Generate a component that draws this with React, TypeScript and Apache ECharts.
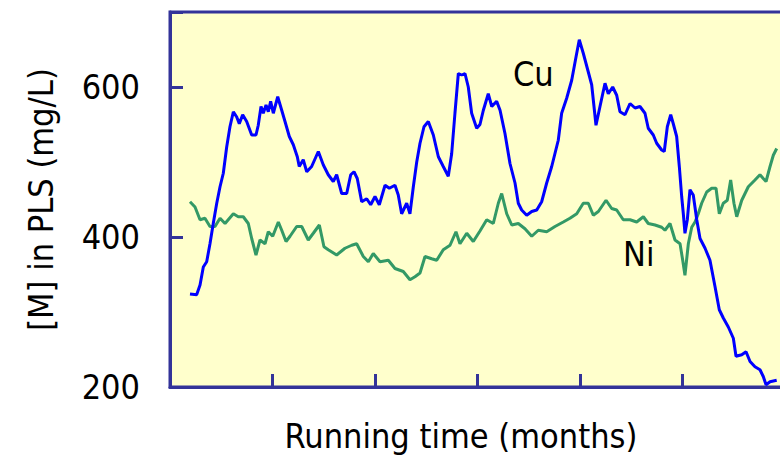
import React, { useEffect, useRef } from "react";
import * as echarts from "echarts";

// Running time (months) and [Cu] in PLS (mg/L)
const cuMonths = [
  0.195, 0.26, 0.293, 0.325, 0.358, 0.39, 0.422, 0.456, 0.488, 0.52, 0.553, 0.585, 0.618, 0.651, 0.676,
  0.709, 0.748, 0.797, 0.839, 0.861, 0.888, 0.91, 0.937, 0.959, 0.982, 1.008, 1.051, 1.09, 1.122, 1.164,
  1.203, 1.242, 1.261, 1.3, 1.334, 1.382, 1.447, 1.496, 1.544, 1.593, 1.626, 1.675, 1.724, 1.763, 1.795,
  1.827, 1.87, 1.919, 1.958, 2.0, 2.042, 2.098, 2.14, 2.195, 2.227, 2.26, 2.309, 2.341, 2.374, 2.407,
  2.439, 2.478, 2.52, 2.569, 2.618, 2.666, 2.715, 2.748, 2.78, 2.813, 2.846, 2.878, 2.91, 2.943, 2.992,
  3.024, 3.057, 3.105, 3.139, 3.187, 3.22, 3.268, 3.317, 3.366, 3.398, 3.431, 3.48, 3.529, 3.578, 3.626,
  3.675, 3.724, 3.788, 3.821, 3.87, 3.919, 3.961, 3.993, 4.032, 4.081, 4.114, 4.156, 4.195, 4.244, 4.276,
  4.319, 4.358, 4.39, 4.439, 4.488, 4.537, 4.585, 4.634, 4.666, 4.715, 4.748, 4.797, 4.822, 4.852, 4.885,
  4.91, 4.943, 4.969, 4.992, 5.008, 5.024, 5.047, 5.073, 5.105, 5.139, 5.171, 5.22, 5.268, 5.317, 5.359,
  5.398, 5.447, 5.496, 5.522, 5.578, 5.62, 5.659, 5.707, 5.756, 5.788, 5.815, 5.854, 5.919,
];
const cuValues = [
  324, 323, 336, 360, 367, 391, 418, 445, 467, 485, 520, 547, 567, 560, 551,
  563, 554, 536, 536, 549, 574, 565, 576, 567, 581, 565, 587, 569, 554, 534,
  523, 507, 494, 503, 487, 494, 514, 496, 483, 474, 483, 458, 458, 483, 487,
  478, 447, 451, 443, 454, 443, 469, 465, 469, 456, 431, 445, 431, 467, 500,
  525, 547, 554, 536, 507, 494, 481, 511, 565, 618, 616, 618, 600, 565, 545,
  550, 569, 591, 574, 581, 569, 538, 498, 472, 445, 436, 429, 434, 436, 447,
  472, 494, 529, 565, 585, 609, 640, 663, 645, 620, 603, 549, 574, 605, 591,
  600, 589, 567, 563, 578, 572, 574, 565, 545, 536, 525, 516, 514, 547, 563,
  551, 534, 494, 454, 431, 405, 423, 463, 456, 423, 398, 385, 369, 334, 303,
  292, 280, 265, 241, 243, 247, 234, 227, 223, 214, 203, 207, 209,
];

// Running time (months) and [Ni] in PLS (mg/L)
const niMonths = [
  0.195, 0.244, 0.293, 0.341, 0.39, 0.439, 0.488, 0.537, 0.618, 0.666, 0.715, 0.764, 0.797, 0.839, 0.878,
  0.927, 0.959, 1.002, 1.057, 1.09, 1.132, 1.171, 1.236, 1.285, 1.349, 1.398, 1.457, 1.502, 1.544, 1.626,
  1.707, 1.773, 1.821, 1.886, 1.935, 1.983, 2.049, 2.13, 2.195, 2.276, 2.341, 2.39, 2.439, 2.488, 2.553,
  2.602, 2.666, 2.732, 2.79, 2.829, 2.895, 2.959, 3.024, 3.09, 3.154, 3.203, 3.236, 3.285, 3.334, 3.398,
  3.463, 3.529, 3.593, 3.675, 3.756, 3.837, 3.902, 3.968, 4.032, 4.081, 4.13, 4.179, 4.254, 4.309, 4.358,
  4.422, 4.488, 4.553, 4.618, 4.666, 4.732, 4.797, 4.829, 4.878, 4.927, 4.976, 5.002, 5.024, 5.057, 5.09,
  5.122, 5.154, 5.187, 5.236, 5.285, 5.327, 5.359, 5.398, 5.437, 5.47, 5.502, 5.529, 5.578, 5.642, 5.707,
  5.756, 5.788, 5.815, 5.854, 5.886, 5.919,
];
const niValues = [
  447, 440, 423, 425, 414, 414, 425, 418, 431, 427, 427, 418, 398, 376, 396,
  391, 407, 401, 420, 409, 394, 401, 414, 414, 396, 405, 416, 387, 383, 376,
  385, 389, 391, 374, 367, 378, 367, 369, 358, 354, 343, 347, 352, 374, 371,
  369, 383, 389, 407, 391, 405, 394, 408, 423, 418, 445, 458, 431, 416, 418,
  411, 401, 409, 407, 414, 420, 425, 431, 445, 445, 429, 434, 449, 438, 436,
  423, 423, 420, 427, 418, 416, 413, 409, 418, 396, 391, 369, 349, 391, 413,
  420, 431, 445, 460, 465, 465, 431, 445, 449, 476, 445, 427, 449, 467, 476,
  483, 478, 474, 494, 509, 518,
];

const yTicks = [200, 400, 600];
const seriesLabels = ["Cu", "Ni"];

const FONT = "'DejaVu Sans Condensed', 'Liberation Sans', sans-serif";
const AXIS = "#333399";

export default function App() {
  const ref = useRef<HTMLDivElement>(null);
  useEffect(() => {
    if (!ref.current) return;
    const chart = echarts.init(ref.current, undefined, { renderer: "svg" });
    const cuData = cuMonths.map((t, i) => [t, cuValues[i]]);
    const niData = niMonths.map((t, i) => [t, niValues[i]]);
    chart.setOption({
      animation: false,
      backgroundColor: "#ffffff",
      grid: {
        left: 170,
        top: 12,
        width: 615,
        height: 375,
        show: true,
        backgroundColor: "#FFFFCC",
        borderColor: AXIS,
        borderWidth: 3,
        outerBoundsMode: "none",
        containLabel: false,
      },
      xAxis: {
        type: "value",
        min: 0,
        max: 6,
        interval: 1,
        name: "Running time (months)",
        nameLocation: "middle",
        nameGap: 32,
        nameTextStyle: { fontFamily: FONT, fontSize: 34, color: "#000", padding: [0, 33, 0, 0] },
        axisLine: { show: true, lineStyle: { color: AXIS, width: 3 } },
        axisTick: { show: true, inside: true, length: 13, lineStyle: { color: AXIS, width: 3 } },
        axisLabel: { show: false },
        splitLine: { show: false },
      },
      yAxis: {
        type: "value",
        min: 200,
        max: 700,
        interval: 200,
        name: "[M] in PLS (mg/L)",
        nameLocation: "middle",
        nameGap: 112,
        nameTextStyle: { fontFamily: FONT, fontSize: 34, color: "#000" },
        axisLine: { show: true, lineStyle: { color: AXIS, width: 3 } },
        axisTick: { show: true, inside: true, length: 13, lineStyle: { color: AXIS, width: 3 } },
        axisLabel: {
          margin: 30,
          fontFamily: FONT,
          fontSize: 34,
          color: "#000",
          formatter: (v: number) => (yTicks.includes(v) ? String(v) : ""),
        },
        splitLine: { show: false },
      },
      graphic: [
        {
          type: "text",
          left: 513,
          top: 57,
          style: { text: seriesLabels[0], fontFamily: FONT, fontSize: 34, fill: "#000" },
        },
        {
          type: "text",
          left: 623,
          top: 237,
          style: { text: seriesLabels[1], fontFamily: FONT, fontSize: 34, fill: "#000" },
        },
      ],
      series: [
        {
          name: seriesLabels[1],
          type: "line",
          data: niData,
          showSymbol: false,
          lineStyle: { color: "#339966", width: 3 },
          z: 2,
        },
        {
          name: seriesLabels[0],
          type: "line",
          data: cuData,
          showSymbol: false,
          lineStyle: { color: "#0000FF", width: 3 },
          z: 3,
        },
      ],
    });
    return () => chart.dispose();
  }, []);
  return (
    <div
      ref={ref}
      style={{ position: "fixed", left: 0, top: 0, width: 780, height: 457 }}
    />
  );
}
